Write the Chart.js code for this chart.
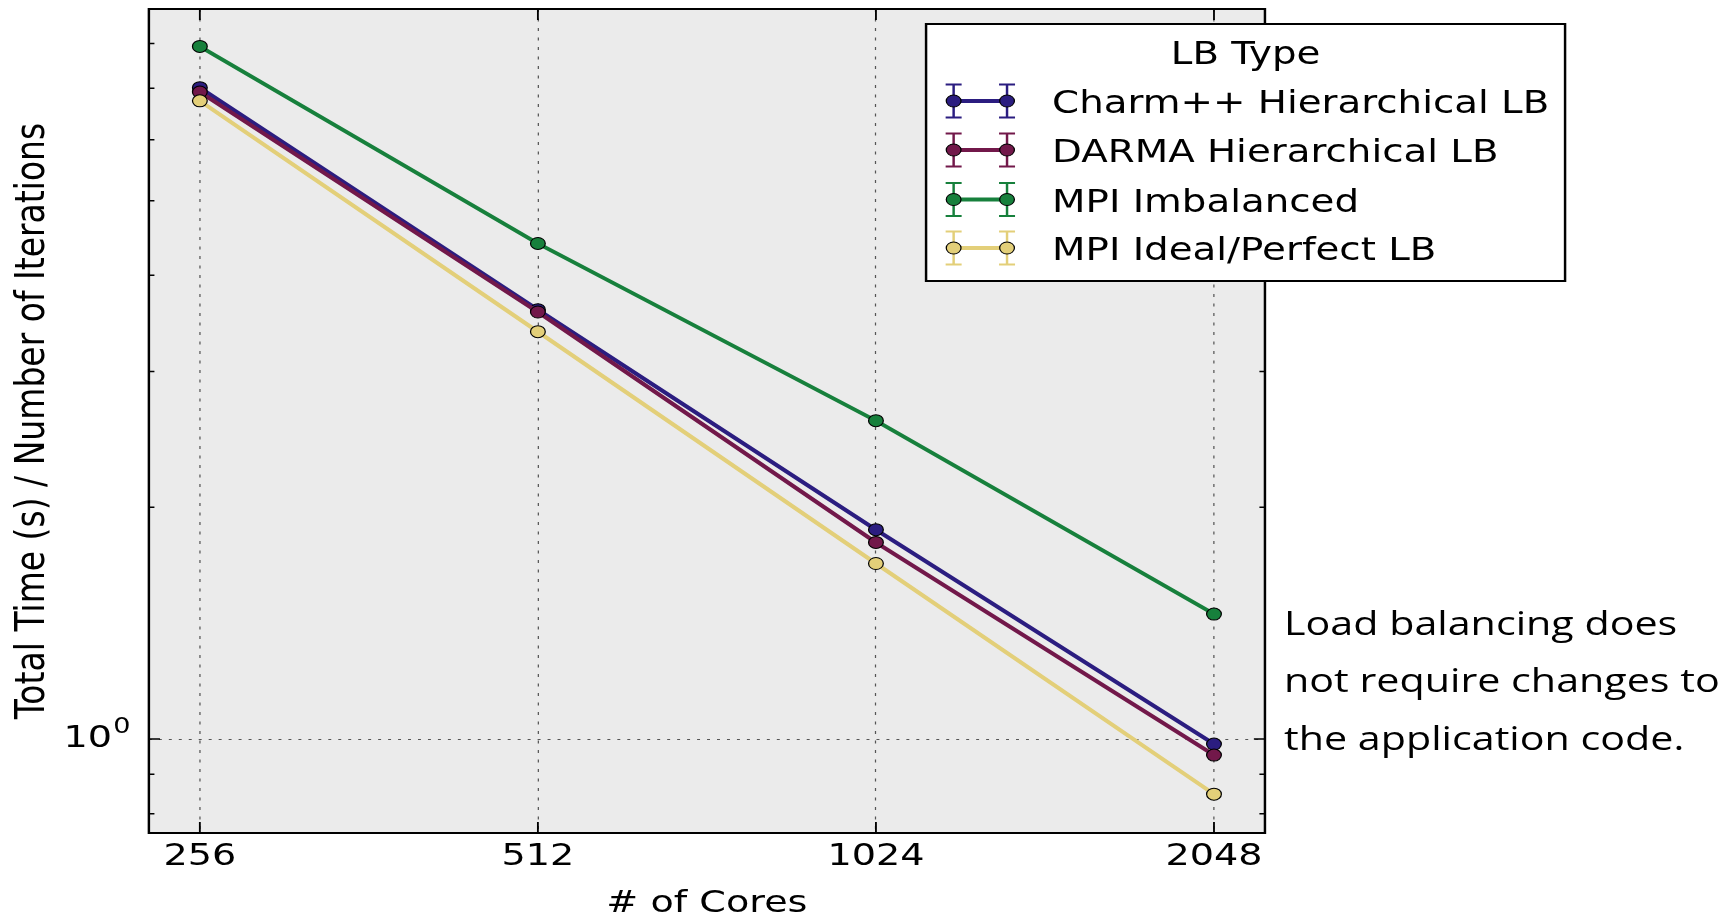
<!DOCTYPE html>
<html>
<head>
<meta charset="utf-8">
<script src="https://cdn.jsdelivr.net/npm/chart.js@4.4.1/dist/chart.umd.min.js"></script>
<style>
  html, body { margin: 0; padding: 0; background: #fff; overflow: hidden; }
  #wrap { position: relative; width: 1735px; height: 916px; }
  canvas { display: block; }
</style>
</head>
<body>
<div id="wrap">
  <canvas id="c" width="1410" height="916" style="width:1735px;height:916px"></canvas>
</div>
<script>
// Strong scaling: time per iteration vs. core count
const cores = [256, 512, 1024, 2048];
const charmHierarchical = [7.01, 3.61, 1.87, 0.985];
const darmaHierarchical = [6.92, 3.585, 1.80, 0.953];
const mpiImbalanced = [7.93, 4.40, 2.59, 1.453];
const mpiIdeal = [6.74, 3.38, 1.69, 0.848];

const seriesNames = ['Charm++ Hierarchical LB', 'DARMA Hierarchical LB', 'MPI Imbalanced', 'MPI Ideal/Perfect LB'];
const seriesValues = [charmHierarchical, darmaHierarchical, mpiImbalanced, mpiIdeal];
const seriesColors = ['#2b1d80', '#72184a', '#17803c', '#e3cf79'];

const xTickValues = [256, 512, 1024, 2048];
const xTickLabels = ['256', '512', '1024', '2048'];
const yMajorTicks = [1];
const yTickBases = ['10'];
const yTickExponents = ['0'];
const yMinorTicks = [0.8, 0.9, 2, 3, 4, 5, 6, 7, 8];

const legendTitle = 'LB Type';
const noteLines = ['Load balancing does', 'not require changes to', 'the application code.'];

// the figure is laid out on a narrower surface and widened horizontally
const LAYOUT_W = 1410;
const OUT_W = 1735;
const STRETCH = OUT_W / LAYOUT_W;

Chart.defaults.font.family = '"DejaVu Sans", sans-serif';
Chart.defaults.color = '#000';

const datasets = seriesNames.map((name, i) => ({
  label: name,
  data: cores.map((c, j) => ({ x: c, y: seriesValues[i][j] })),
  borderColor: seriesColors[i],
  backgroundColor: seriesColors[i],
  borderWidth: 3.8,
  pointRadius: 6,
  pointBorderWidth: 1,
  pointBorderColor: '#000',
  pointBackgroundColor: seriesColors[i],
  tension: 0,
  order: seriesNames.length - i
}));

const decorations = {
  id: 'decorations',
  beforeDraw(chart) {
    const { ctx, chartArea: a } = chart;
    ctx.save();
    ctx.fillStyle = '#ebebeb';
    ctx.fillRect(a.left, a.top, a.right - a.left, a.bottom - a.top);
    ctx.restore();
  },
  afterDraw(chart) {
    const { ctx, chartArea: a, scales } = chart;
    const x = scales.x, y = scales.y;
    ctx.save();

    // exponent of the y tick labels
    ctx.fillStyle = '#000';
    ctx.textAlign = 'left';
    ctx.textBaseline = 'alphabetic';
    ctx.font = '22px "DejaVu Sans"';
    yMajorTicks.forEach((v, i) => {
      const py = y.getPixelForValue(v);
      ctx.fillText(yTickExponents[i], a.left - 29, py - 6);
    });

    // inward tick marks on all four sides
    ctx.strokeStyle = '#000';
    ctx.lineWidth = 1.5;
    ctx.beginPath();
    xTickValues.forEach(v => {
      const px = x.getPixelForValue(v);
      ctx.moveTo(px, a.bottom); ctx.lineTo(px, a.bottom - 11);
      ctx.moveTo(px, a.top); ctx.lineTo(px, a.top + 11);
    });
    yMajorTicks.forEach(v => {
      const py = y.getPixelForValue(v);
      ctx.moveTo(a.left, py); ctx.lineTo(a.left + 9, py);
      ctx.moveTo(a.right, py); ctx.lineTo(a.right - 9, py);
    });
    yMinorTicks.forEach(v => {
      const py = y.getPixelForValue(v);
      ctx.moveTo(a.left, py); ctx.lineTo(a.left + 4.5, py);
      ctx.moveTo(a.right, py); ctx.lineTo(a.right - 4.5, py);
    });
    ctx.stroke();

    // axes frame
    ctx.lineWidth = 2;
    ctx.strokeRect(a.left, a.top, a.right - a.left, a.bottom - a.top);

    // legend box with error-bar style keys
    const L = { left: 752.6, top: 24, right: 1271.9, bottom: 281 };
    ctx.fillStyle = '#fff';
    ctx.fillRect(L.left, L.top, L.right - L.left, L.bottom - L.top);
    ctx.lineWidth = 2;
    ctx.strokeStyle = '#000';
    ctx.strokeRect(L.left, L.top, L.right - L.left, L.bottom - L.top);

    ctx.fillStyle = '#000';
    ctx.font = '31.5px "DejaVu Sans"';
    ctx.textAlign = 'center';
    ctx.textBaseline = 'alphabetic';
    ctx.fillText(legendTitle, (L.left + L.right) / 2, 64);

    const baselines = [113, 162, 211.5, 260];
    const kx1 = 775, kx2 = 818.4;
    chart.data.datasets.forEach((ds, i) => {
      const cy = baselines[i] - 12;
      const col = ds.borderColor;
      // error caps
      ctx.strokeStyle = col;
      ctx.lineWidth = 2;
      ctx.beginPath();
      [kx1, kx2].forEach(kx => {
        ctx.moveTo(kx, cy - 16.5); ctx.lineTo(kx, cy + 16.5);
        ctx.moveTo(kx - 6.5, cy - 16.5); ctx.lineTo(kx + 6.5, cy - 16.5);
        ctx.moveTo(kx - 6.5, cy + 16.5); ctx.lineTo(kx + 6.5, cy + 16.5);
      });
      ctx.stroke();
      // line
      ctx.lineWidth = 3.8;
      ctx.beginPath();
      ctx.moveTo(kx1, cy); ctx.lineTo(kx2, cy);
      ctx.stroke();
      // markers
      [kx1, kx2].forEach(kx => {
        ctx.beginPath();
        ctx.arc(kx, cy, 6, 0, Math.PI * 2);
        ctx.fillStyle = col;
        ctx.fill();
        ctx.lineWidth = 1;
        ctx.strokeStyle = '#000';
        ctx.stroke();
      });
      ctx.fillStyle = '#000';
      ctx.textAlign = 'left';
      ctx.font = '31.5px "DejaVu Sans"';
      ctx.fillText(ds.label, 855, baselines[i]);
    });

    // side note
    ctx.fillStyle = '#000';
    ctx.textAlign = 'left';
    ctx.textBaseline = 'alphabetic';
    ctx.font = '33.5px "Open Sans"';
    const noteBaselines = [635, 692, 750];
    noteLines.forEach((t, i) => ctx.fillText(t, 1043.5, noteBaselines[i]));

    ctx.restore();
  }
};

const chart = new Chart(document.getElementById('c'), {
  type: 'line',
  data: { datasets },
  options: {
    responsive: false,
    animation: false,
    devicePixelRatio: 1,
    events: [],
    layout: { padding: { top: 9, right: LAYOUT_W - 1028, left: 0, bottom: 0 } },
    plugins: { legend: { display: false }, tooltip: { enabled: false } },
    scales: {
      x: {
        type: 'logarithmic',
        min: 230.6,
        max: 2273.6,
        afterBuildTicks: s => { s.ticks = xTickValues.map(v => ({ value: v })); },
        afterFit: s => { s.height = 83; s.paddingLeft = 0; s.paddingRight = 0; },
        ticks: {
          callback: (v, i) => xTickLabels[i],
          autoSkip: false,
          maxRotation: 0,
          padding: 5.4,
          font: { size: 31 },
          color: '#000'
        },
        grid: { color: '#555', lineWidth: 1, drawTicks: false },
        border: { display: false, dash: [3, 6.5] },
        title: { display: true, text: '# of Cores', font: { size: 31 }, color: '#000', padding: { top: 0, bottom: -6.5 } }
      },
      y: {
        type: 'logarithmic',
        min: 0.755,
        max: 8.87,
        afterBuildTicks: s => { s.ticks = yMajorTicks.map(v => ({ value: v })); },
        afterFit: s => { s.width = 121; s.paddingTop = 0; s.paddingBottom = 0; },
        ticks: {
          callback: (v, i) => yTickBases[i],
          padding: 30,
          font: { size: 31 },
          color: '#000'
        },
        grid: { color: '#555', lineWidth: 1, drawTicks: false },
        border: { display: false, dash: [2.4, 5.7] },
        title: {
          display: true,
          text: 'Total Time (s) / Number of Iterations',
          font: { size: 33 },
          color: '#000',
          padding: { top: 7.3, bottom: 0 }
        }
      }
    }
  },
  plugins: [decorations]
});

// widen the drawing surface to the output width and redraw with a horizontal stretch
const cv = chart.canvas;
cv.width = OUT_W;
chart.ctx.setTransform(STRETCH, 0, 0, 1, 0, 0);
chart.draw();
</script>
</body>
</html>
